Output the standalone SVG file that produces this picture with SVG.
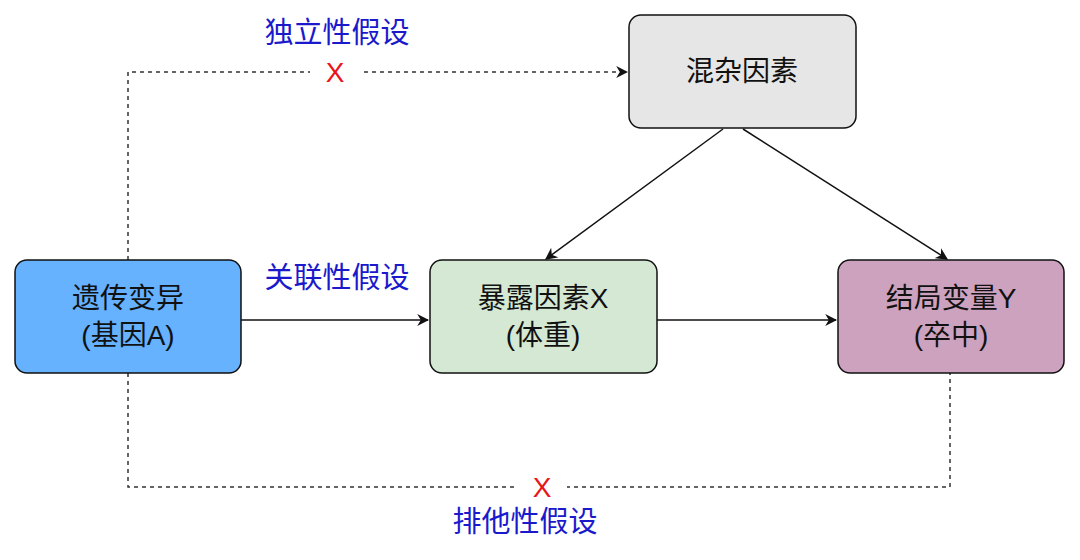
<svg xmlns="http://www.w3.org/2000/svg" width="1080" height="560" viewBox="0 0 1080 560">
<style>
.n{stroke:#111;stroke-width:1.5}
.t{font-family:"Liberation Sans","Noto Sans CJK SC",sans-serif;font-size:28px;fill:#111;text-anchor:middle}
.b{font-family:"Liberation Sans","Noto Sans CJK SC",sans-serif;font-size:29px;fill:#1a1acc;text-anchor:middle}
.x{font-family:"Liberation Sans",sans-serif;font-size:28px;fill:#e8161b;text-anchor:middle}
.c{fill:none;stroke:#111;stroke-width:1.5}
.d{fill:none;stroke:#333;stroke-width:1.5;stroke-dasharray:4 4}
</style>
<defs><marker id="a" viewBox="0 0 10 10" refX="9" refY="5" markerWidth="12" markerHeight="12" markerUnits="userSpaceOnUse" orient="auto"><path d="M0,0 L10,5 L0,10 L3,5 Z" fill="#111"/></marker></defs>
<rect width="1080" height="560" fill="#fff"/>
<g id="connectors">
<path class="c" d="M241,320 H428" marker-end="url(#a)"/>
<path class="c" d="M657,320 H836" marker-end="url(#a)"/>
<path class="c" d="M723,129 L546,259" marker-end="url(#a)"/>
<path class="c" d="M743,129 L947,259" marker-end="url(#a)"/>
<path class="d" d="M128,260 V72 H627" marker-end="url(#a)"/>
<path class="d" d="M128,373 V487 H950 V373"/>
<rect x="310" y="60" width="50" height="24" fill="#fff"/>
<rect x="517" y="475" width="50" height="24" fill="#fff"/>
<text class="x" x="335" y="82">X</text>
<text class="x" x="542" y="497">X</text>
<text class="b" x="337" y="43">独立性假设</text>
<text class="b" x="337" y="288">关联性假设</text>
<text class="b" x="525" y="532">排他性假设</text>
</g>
<g id="gene"><rect class="n" x="15" y="260" width="226" height="113" rx="12" fill="#66b2ff"/><text class="t" x="128" y="308">遗传变异</text><text class="t" x="128" y="345">(基因A)</text></g>
<g id="exposure"><rect class="n" x="430" y="260" width="227" height="113" rx="12" fill="#d5e8d4"/><text class="t" x="543" y="308">暴露因素X</text><text class="t" x="543" y="345">(体重)</text></g>
<g id="outcome"><rect class="n" x="838" y="260" width="226" height="113" rx="12" fill="#cda2be"/><text class="t" x="951" y="308">结局变量Y</text><text class="t" x="951" y="345">(卒中)</text></g>
<g id="confounder"><rect class="n" x="629" y="15" width="227" height="113" rx="12" fill="#e6e6e6"/><text class="t" x="742" y="81">混杂因素</text></g>
</svg>
